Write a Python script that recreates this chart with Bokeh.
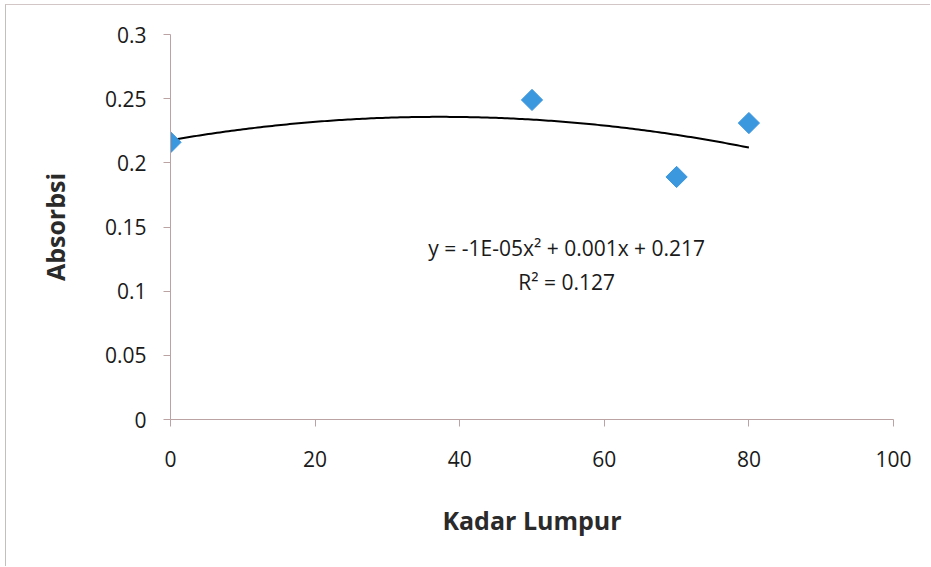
import numpy as np
from bokeh.plotting import figure
from bokeh.models import FixedTicker, ColumnDataSource, Label
from bokeh.embed import file_html
from bokeh.resources import INLINE

# Data
kadar_lumpur = [0, 50, 70, 80]
absorbsi = [0.216, 0.249, 0.189, 0.231]

x_ticks = [0, 20, 40, 60, 80, 100]
x_tick_labels = ["0", "20", "40", "60", "80", "100"]
y_ticks = [0, 0.05, 0.1, 0.15, 0.2, 0.25, 0.3]
y_tick_labels = ["0", "0.05", "0.1", "0.15", "0.2", "0.25", "0.3"]

equation_text = "y = -1E-05x\u00b2 + 0.001x + 0.217"
r2_text = "R\u00b2 = 0.127"

FONT = "Open Sans"
AXIS_COLOR = "#bba3a3"

# Polynomial (order 2) trendline fitted to the data
coef = np.polyfit(kadar_lumpur, absorbsi, 2)
xs = np.linspace(min(kadar_lumpur), max(kadar_lumpur), 200)
ys = np.polyval(coef, xs)

p = figure(width=925, height=562, output_backend="svg", toolbar_location=None,
           x_range=(0, 100), y_range=(0, 0.3),
           min_border_left=164, min_border_right=38, min_border_top=29, min_border_bottom=148)
p.styles = {"border-top": "1px solid #d2c6c6", "border-left": "1px solid #c4bebe",
            "margin-left": "5px", "margin-top": "4px"}
p.outline_line_color = None
p.xgrid.visible = False
p.ygrid.visible = False
p.background_fill_color = "white"
p.border_fill_color = "white"

p.line(xs, ys, line_color="black", line_width=2)

src = ColumnDataSource(dict(x=kadar_lumpur, y=absorbsi))
p.scatter("x", "y", source=src, marker="square", angle=np.pi / 4, size=15,
          fill_color="#3b97de", line_color="#3b97de")

for ax in (p.xaxis[0], p.yaxis[0]):
    ax.axis_line_color = AXIS_COLOR
    ax.axis_line_width = 1
    ax.major_tick_line_color = AXIS_COLOR
    ax.major_tick_in = 0
    ax.major_tick_out = 7
    ax.minor_tick_line_color = None
    ax.major_label_text_font = FONT
    ax.major_label_text_font_size = "21px"
    ax.major_label_text_color = "#1a1a1a"
    ax.axis_label_text_font = FONT
    ax.axis_label_text_font_style = "bold"
    ax.axis_label_text_font_size = "25px"
    ax.axis_label_text_color = "#2a2a2a"

p.xaxis.ticker = FixedTicker(ticks=x_ticks)
p.xaxis.major_label_overrides = {t: l for t, l in zip(x_ticks, x_tick_labels)}
p.yaxis.ticker = FixedTicker(ticks=y_ticks)
p.yaxis.major_label_overrides = {t: l for t, l in zip(y_ticks, y_tick_labels)}

p.xaxis.axis_label = "Kadar Lumpur"
p.yaxis.axis_label = "Absorbsi"
p.xaxis.major_label_standoff = 24
p.xaxis.axis_label_standoff = 33
p.yaxis.major_label_standoff = 17
p.yaxis.axis_label_standoff = 30

p.add_layout(Label(x=54.8, y=0.134, text=equation_text, text_font=FONT,
                   text_font_size="21px", text_color="#1a1a1a", text_align="center",
                   text_baseline="middle"))
p.add_layout(Label(x=54.8, y=0.1075, text=r2_text, text_font=FONT,
                   text_font_size="21px", text_color="#1a1a1a", text_align="center",
                   text_baseline="middle"))

open("out.html", "w").write(file_html(p, INLINE))
